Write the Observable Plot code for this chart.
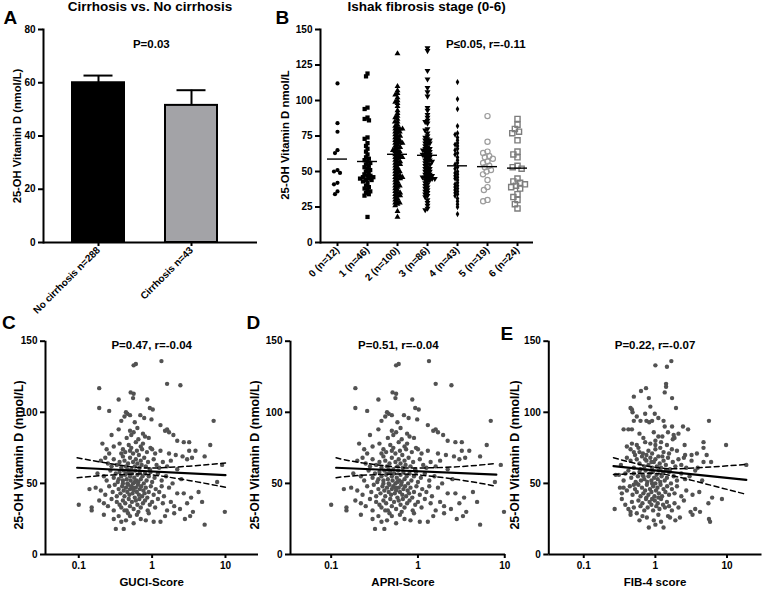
<!DOCTYPE html>
<html>
<head>
<meta charset="utf-8">
<script src="https://cdn.jsdelivr.net/npm/d3@7"></script>
<script src="https://cdn.jsdelivr.net/npm/@observablehq/plot@0.6"></script>
<style>
  html, body { margin: 0; padding: 0; background: #fff; }
  #fig { position: relative; width: 762px; height: 589px; overflow: hidden; background: #fff;
         font-family: "Liberation Sans", Arial, Helvetica, sans-serif; font-weight: bold; color: #000; }
  .txt { position: absolute; white-space: nowrap; line-height: 1; }
</style>
</head>
<body>
<div id="fig"></div>
<script>
// ---------------- Panel A: bar chart ----------------
const groupsA = ["No cirrhosis n=288", "Cirrhosis n=43"];
const meanA = [60, 51.5];
const upperA = [62.7, 57.2];
const colorsA = ["#000000", "#a3a3a7"];
const ticksA = [0, 20, 40, 60, 80];

// ---------------- Panel B: Ishak stages ----------------
const stages = ["0 (n=12)", "1 (n=46)", "2 (n=100)", "3 (n=86)", "4 (n=43)", "5 (n=19)", "6 (n=24)"];
const stage0 = [112, 84, 78, 65, 63, 51, 50, 49, 42, 41, 36, 34];
const stage1 = [119, 117, 95, 94, 88, 87, 86, 74, 73, 70, 68, 66, 64, 62, 60, 59, 58, 57, 56, 55,
  54, 53, 52, 51, 50, 49, 48, 47, 47, 46, 46, 45, 45, 44, 44, 43, 42, 40, 39, 38, 37, 36, 35, 34, 33, 18];
const stage2 = [133, 110, 107, 105, 104, 102, 100, 99, 98, 96, 93, 91, 89, 87, 85, 83, 82, 81, 80, 80,
  79, 78, 78, 77, 76, 75, 74, 73, 72, 71, 70, 70, 69, 68, 67, 67, 66, 65, 64, 64,
  63, 62, 62, 61, 60, 60, 59, 58, 57, 57, 56, 55, 55, 54, 53, 52, 51, 50, 50, 49,
  48, 47, 47, 46, 46, 45, 45, 44, 43, 42, 41, 40, 40, 39, 38, 37, 36, 35, 35, 34,
  33, 33, 32, 31, 30, 29, 28, 28, 27, 26, 22, 18, 70, 75, 80, 85, 88, 60, 65, 72];
const stage3 = [137, 135, 121, 115, 109, 106, 103, 95, 93, 90, 88, 86, 85, 84, 80, 79, 77, 75, 73, 72,
  71, 70, 69, 68, 67, 66, 65, 64, 64, 63, 62, 62, 61, 60, 59, 58, 57, 56, 55, 54,
  53, 52, 51, 50, 49, 48, 48, 47, 46, 46, 45, 45, 44, 44, 43, 42, 41, 40, 39, 38,
  37, 36, 35, 34, 33, 32, 30, 28, 26, 24, 23, 47, 46, 45, 58, 60, 66, 70, 72, 74,
  50, 52, 55, 57, 62, 65];
const stage4 = [113, 101, 94, 82, 77, 76, 74, 72, 70, 69, 68, 66, 65, 63, 62, 60, 58, 56, 55, 53,
  52, 50, 49, 48, 47, 46, 45, 44, 42, 41, 40, 39, 38, 37, 36, 35, 34, 33, 31, 29, 27, 25, 20];
const stage5 = [89, 71, 64, 63, 61, 60, 59, 57, 56, 54, 53, 51, 50, 48, 44, 39, 37, 30, 29];
const stage6 = [87, 83, 80, 78, 77, 72, 64, 62, 60, 54, 53, 52, 45, 43, 42, 41, 40, 39, 38, 34, 32, 30, 27, 24];
const ticksB = [0, 25, 50, 75, 100, 125, 150];

// ---------------- Panels C, D, E: scatter vs scores ----------------
const guciPoints = [
  [0.56,133],[0.6,134],[1.34,136],[1.6,120],[2.43,119],
  [0.19,117],[0.19,103],[0.26,101],[0.35,109],[0.51,114],[0.56,113],[0.55,110],[0.86,109],[0.93,103],[1.02,102],[0.44,100],
  [0.46,99],[0.42,97],[0.5,98],[0.69,98],[0.78,96],[0.98,95],[6.9,94],[1.3,91],[0.58,93],[0.38,94],
  [0.35,88],[0.5,87],[0.56,86],[0.63,89],[0.75,85],[0.8,83],[1.5,87],[1.6,88],[1.7,86],[1.95,84],[0.28,84],[0.45,82],[0.65,81],[0.9,82],[2.2,80],[0.52,84],
  [0.21,78],[0.3,76],[0.36,78],[0.4,74],[0.43,72],[0.48,77],[0.52,75],[0.55,71],[0.6,79],[0.62,73],[0.7,76],[0.73,74],[0.75,78],[0.85,72],[0.95,75],[1.0,74],[1.1,71],[1.3,73],[2.7,79],[3.2,79],[3.2,73],[3.9,73],[6.2,77],[0.26,71],[0.24,74],[1.7,71],[2.1,70],[0.66,70],[0.38,71],[0.5,73],
  [0.2,66],[0.23,68],[0.25,64],[0.28,62],[0.3,67],[0.33,63],[0.36,65],[0.38,61],[0.4,69],[0.42,66],[0.44,62],[0.47,64],[0.5,68],[0.52,60],[0.55,65],[0.58,62],[0.6,67],[0.63,64],[0.67,61],[0.7,66],[0.72,63],[0.78,68],[0.82,62],[0.88,65],[0.93,60],[1.05,67],[1.15,63],[1.25,61],[1.4,65],[1.6,62],[2.6,69],[3.0,67],[3.5,68],[5.2,69],[9.0,63],[2.2,60],[0.46,60],[1.8,66],
  [0.18,57],[0.22,55],[0.24,52],[0.27,59],[0.3,54],[0.32,57],[0.34,51],[0.36,58],[0.38,55],[0.4,52],[0.41,59],[0.43,56],[0.45,53],[0.46,50],[0.48,58],[0.5,55],[0.51,52],[0.53,57],[0.55,50],[0.57,54],[0.59,59],[0.61,52],[0.63,56],[0.65,51],[0.68,58],[0.7,53],[0.74,55],[0.77,50],[0.8,57],[0.84,52],[0.9,55],[0.95,58],[1.0,51],[1.08,54],[1.2,57],[1.35,52],[1.55,55],[1.9,50],[2.5,53],[7.7,51],[0.35,53],[0.58,51],[0.44,57],
  [0.14,46],[0.17,47],[0.2,45],[0.23,42],[0.26,48],[0.29,44],[0.31,49],[0.33,41],[0.35,46],[0.37,43],[0.39,48],[0.41,45],[0.42,41],[0.44,47],[0.46,44],[0.47,49],[0.49,42],[0.5,46],[0.52,48],[0.54,43],[0.56,45],[0.58,40],[0.6,47],[0.62,44],[0.64,49],[0.66,42],[0.68,46],[0.71,48],[0.73,41],[0.76,45],[0.79,43],[0.82,47],[0.86,40],[0.9,44],[0.96,48],[1.05,42],[1.12,46],[1.25,44],[1.45,41],[1.7,47],[2.2,43],[2.7,43],[3.4,40],[4.3,44],[0.4,50],[0.55,47],[1.35,48],
  [0.1,35],[0.15,33],[0.15,31],[0.19,38],[0.22,36],[0.25,34],[0.28,39],[0.3,31],[0.33,37],[0.36,35],[0.38,33],[0.4,38],[0.43,36],[0.45,31],[0.48,39],[0.5,34],[0.53,37],[0.56,32],[0.6,38],[0.63,35],[0.67,39],[0.7,33],[0.75,36],[0.8,38],[0.87,31],[0.93,35],[1.0,37],[1.1,33],[1.2,39],[1.4,36],[1.6,31],[1.8,37],[2.0,34],[2.4,32],[3.0,36],[3.6,30],[4.8,37],[0.42,31],[0.65,30],[9.8,30],
  [0.22,28],[0.3,25],[0.32,18],[0.38,23],[0.41,18],[0.44,24],[0.5,27],[0.56,22],[0.62,28],[0.7,25],[0.82,24],[0.9,29],[1.05,23],[1.3,23],[1.5,27],[2.0,29],[2.8,25],[3.3,27],[5.2,21],[0.47,29],[0.35,27]
];
const apriPoints = guciPoints;
const fib4Points = [
  [1.67,136],[1.45,132],[1.0,133],[1.41,120],[1.41,118],
  [0.74,117],[0.63,115],[0.5,111],[0.81,110],[1.35,114],[1.71,110],[0.85,104],[1.94,103],[0.45,103],[0.48,100],[0.72,99],[0.98,99],[0.47,102],
  [0.55,97],[0.62,94],[0.75,94],[0.82,93],[0.9,94],[1.3,94],[1.35,90],[1.71,90],[2.43,90],[5.6,94],[0.5,94],[1.1,96],
  [0.36,88],[0.47,88],[2.86,88],[1.8,84],[1.85,82],[1.75,81],[1.1,83],[1.25,83],[1.0,80],[0.72,79],[0.42,88],[0.6,85],[0.95,86],[1.5,86],[2.1,85],[0.68,82],
  [1.0,77],[0.55,77],[0.47,78],[0.45,74],[0.5,72],[0.6,72],[0.67,71],[0.75,70],[0.8,73],[1.0,74],[1.17,75],[1.45,77],[1.7,74],[2.56,77],[4.7,79],[2.6,70],[3.2,70],[3.8,71],[4.7,75],[9.7,77],[5.2,70],[0.4,76],[0.85,78],[1.3,72],[1.55,71],[2.0,73],[0.58,75],[1.2,79],[0.9,71],[0.52,70],
  [4.7,65],[6.0,65],[18.6,63],[0.33,63],[0.4,68],[0.45,66],[0.5,61],[0.55,67],[0.6,64],[0.65,69],[0.7,62],[0.75,66],[0.8,63],[0.85,68],[0.9,61],[0.95,65],[1.0,67],[1.05,62],[1.1,69],[1.15,64],[1.2,61],[1.3,66],[1.4,63],[1.5,68],[1.6,60],[1.75,65],[1.9,62],[2.1,67],[2.3,63],[2.7,61],[3.2,66],[3.9,61],[0.62,60],[1.25,69],[0.88,65],[2.5,68],[0.72,67],
  [0.28,56],[0.31,56],[0.38,57],[0.36,52],[0.42,59],[0.46,54],[0.5,57],[0.53,51],[0.57,55],[0.6,58],[0.63,52],[0.66,56],[0.7,53],[0.73,59],[0.77,51],[0.8,55],[0.84,57],[0.88,52],[0.92,58],[0.96,54],[1.0,50],[1.04,56],[1.08,53],[1.12,59],[1.17,51],[1.22,55],[1.28,57],[1.35,52],[1.45,54],[1.55,58],[1.65,50],[1.8,55],[2.0,52],[2.3,57],[2.6,53],[3.0,55],[3.6,59],[4.5,52],[0.55,50],[0.9,50],[1.4,59],[0.68,55],
  [0.32,47],[0.36,47],[0.34,43],[0.4,45],[0.44,48],[0.48,42],[0.52,46],[0.55,44],[0.58,49],[0.62,41],[0.65,47],[0.68,43],[0.72,45],[0.76,49],[0.8,42],[0.84,46],[0.88,44],[0.93,48],[0.97,41],[1.02,45],[1.07,47],[1.12,43],[1.18,49],[1.24,41],[1.3,46],[1.38,44],[1.46,48],[1.55,42],[1.7,46],[1.85,43],[2.0,48],[2.3,41],[2.7,45],[3.3,42],[6.2,40],[8.5,39],[4.1,44],[0.75,40],[1.1,40],[0.5,49],
  [0.34,39],[0.38,35],[0.42,32],[0.45,30],[0.47,37],[0.5,33],[0.55,29],[0.58,38],[0.62,34],[0.66,36],[0.7,31],[0.74,39],[0.78,33],[0.83,37],[0.88,35],[0.93,31],[0.98,38],[1.03,34],[1.08,36],[1.14,32],[1.2,39],[1.28,35],[1.36,33],[1.45,37],[1.55,34],[1.7,31],[1.85,36],[2.1,33],[2.5,38],[3.1,30],[3.6,32],[4.2,30],[0.27,32],[5.5,36],[0.9,39],
  [0.66,27],[0.76,26],[0.81,19],[1.3,19],[1.9,24],[1.5,27],[1.6,26],[0.95,24],[1.1,28],[5.6,25],[5.8,23],[0.6,24],[1.2,23],[2.2,26],[0.45,28],[3.3,28],[1.0,21]
];
// regression line and 95% band ([score, vitamin D])
const fitC = [[0.095, 61], [10, 55.8]];
const ciUpperC = [[0.095, 68], [0.2, 65], [0.5, 61.8], [1, 60.8], [3.16, 62.1], [10, 64.3]];
const ciLowerC = [[0.095, 54], [0.2, 55.4], [0.5, 56.5], [1, 56], [3.16, 52.1], [10, 47.3]];
const fitD = [[0.114, 61], [8, 56.2]];
const ciUpperD = [[0.114, 68], [0.2, 65], [0.5, 61.8], [1, 60.8], [3, 61.8], [8, 64]];
const ciLowerD = [[0.114, 54], [0.2, 55.5], [0.5, 56.5], [1, 56], [3, 52.5], [8, 48]];
const fitE = [[0.26, 62.1], [18.6, 52.5]];
const ciUpperE = [[0.26, 68], [0.5, 64.3], [1, 61.2], [2, 60.3], [5, 61.3], [18.6, 63.3]];
const ciLowerE = [[0.26, 56.2], [0.5, 56.9], [1, 57], [2, 54.7], [5, 49.7], [18.6, 42.3]];
const ticksScatterY = [0, 50, 100, 150];
const ticksScore = [0.1, 1, 10];

// ---------------- Texts ----------------
const panelLetters = [["A", 3.5, 7.5], ["B", 275.5, 7.5], ["C", 2, 312.5], ["D", 246.5, 312.5], ["E", 500.5, 324]];
const titles = [["Cirrhosis vs. No cirrhosis", 150, 0], ["Ishak fibrosis stage (0-6)", 426.7, 0]];
const statTexts = [["P=0.03", 151.3, 38.5], ["P\u22640.05, r=-0.11", 485.8, 39.2],
  ["P=0.47, r=-0.04", 151.7, 340.2], ["P=0.51, r=-0.04", 398.3, 340.2], ["P=0.22, r=-0.07", 655, 340.2]];
const yTitles = [["25-OH Vitamin D (nmol/L)", 18.3, 135.8, 11.2], ["25-OH Vitamin D nmol/L", 285.5, 135, 11.4],
  ["25-OH Vitamin D (nmol/L)", 18.5, 455, 12.4], ["25-OH Vitamin D (nmol/L)", 255, 455, 12.4], ["25-OH Vitamin D (nmol/L)", 515, 455, 12.4]];
const xTitles = [["GUCI-Score", 151.7, 577], ["APRI-Score", 403, 577], ["FIB-4 score", 655, 577]];

// ---------------- Build ----------------
const fig = document.getElementById("fig");
const FONT = '"Liberation Sans", Arial, Helvetica, sans-serif';
const STYLE = {fontFamily: FONT, fontSize: "10px", fontWeight: "bold", overflow: "visible", background: "transparent", color: "#000"};
const TICKFONT = {fontSize: 10, fontWeight: "bold"};

function place(el, left, top) {
  el.style.position = "absolute";
  el.style.left = left + "px";
  el.style.top = top + "px";
  fig.appendChild(el);
}
function addText(t, x, y, size, mode) {
  const d = document.createElement("div");
  d.className = "txt";
  d.textContent = t;
  d.style.fontSize = size + "px";
  d.style.left = x + "px";
  d.style.top = y + "px";
  if (mode === "rot") d.style.transform = "translate(-50%,-50%) rotate(-90deg)";
  else if (mode === "center") d.style.transform = "translateX(-50%)";
  fig.appendChild(d);
}

// Panel A
const barsA = groupsA.map((g, i) => ({group: g, mean: meanA[i], upper: upperA[i], color: colorsA[i]}));
const plotA = Plot.plot({
  width: 262, height: 300, marginLeft: 43, marginRight: 5, marginTop: 29, marginBottom: 58,
  style: STYLE,
  x: {type: "band", domain: groupsA, range: [43, 246], paddingInner: 0.436, paddingOuter: 0.298},
  y: {domain: [0, 80]},
  marks: [
    Plot.ruleX(barsA, {x: "group", y1: "mean", y2: "upper", stroke: "#000", strokeWidth: 2}),
    Plot.tickY(barsA, {x: "group", y: "upper", stroke: "#000", strokeWidth: 2, insetLeft: 11.5, insetRight: 11.5}),
    Plot.barY(barsA, {x: "group", y: "mean", fill: "color", stroke: "#000", strokeWidth: 2}),
    Plot.axisY({ticks: ticksA, tickSize: 5, tickPadding: 3, strokeWidth: 2, label: null, ...TICKFONT}),
    Plot.axisX({tickRotate: -45, tickSize: 4, tickPadding: 2, strokeWidth: 2, label: null, ...TICKFONT}),
    Plot.frame({anchor: "left", strokeWidth: 2}),
    Plot.ruleY([0], {strokeWidth: 2})
  ]
});
place(plotA, 0, 0);

// Panel B axes
const bData = [stage0, stage1, stage2, stage3, stage4, stage5, stage6]
  .flatMap((vals, i) => vals.map(v => ({stage: stages[i], v})));
const dimsB = {width: 290, height: 300, marginLeft: 50, marginRight: 27, marginTop: 29, marginBottom: 58};
const plotBaxes = Plot.plot({
  ...dimsB, style: STYLE,
  x: {type: "band", domain: stages, padding: 0},
  y: {domain: [0, 150]},
  marks: [
    Plot.axisY({ticks: ticksB, tickSize: 5, tickPadding: 3, strokeWidth: 2, label: null, ...TICKFONT}),
    Plot.axisX({tickRotate: -45, tickSize: 4, tickPadding: 2, strokeWidth: 2, label: null, ...TICKFONT}),
    Plot.frame({anchor: "left", strokeWidth: 2}),
    Plot.ruleY([0], {strokeWidth: 2})
  ]
});
place(plotBaxes, 270, 0);

const triangleDown = {
  draw(context, size) {
    const y = -Math.sqrt(size / (Math.sqrt(3) * 3));
    context.moveTo(0, -y * 2);
    context.lineTo(-Math.sqrt(3) * y, y);
    context.lineTo(Math.sqrt(3) * y, y);
    context.closePath();
  }
};
const symStyles = [
  {symbol: "circle", fill: "#000", r: 2.1, pad: -0.4},
  {symbol: "square", fill: "#000", r: 2.4, pad: -1.6},
  {symbol: "triangle", fill: "#000", r: 2.2, pad: -1.7},
  {symbol: triangleDown, fill: "#000", r: 2.2, pad: -1.7},
  {symbol: "diamond", fill: "#000", r: 1.9, pad: -1.0},
  {symbol: "circle", fill: "none", stroke: "#9c9c9c", strokeWidth: 1.2, r: 2.6, pad: -0.6},
  {symbol: "square", fill: "none", stroke: "#7d7d7d", strokeWidth: 1.4, r: 2.9, pad: -0.8}
];
const swarmMarks = stages.map((s, i) => {
  const {pad, ...st} = symStyles[i];
  return Plot.dot(bData.filter(d => d.stage === s),
    Plot.dodgeX({anchor: "middle", padding: pad}, {y: "v", fx: "stage", ...st}));
});
const plotBswarm = Plot.plot({
  ...dimsB, style: STYLE,
  fx: {domain: stages, padding: 0, axis: null},
  y: {domain: [0, 150], axis: null},
  marks: [
    ...swarmMarks,
    Plot.tickY(bData, Plot.groupZ({y: "mean"}, {y: "v", fx: "stage", insetLeft: 5, insetRight: 5, stroke: "#000", strokeWidth: 1.4}))
  ]
});
place(plotBswarm, 270, 0);

// Panels C, D, E
function scatterPanel(points, domain, fit, ciU, ciL, width, marginLeft, marginRight) {
  const line = (data, w, dash) => Plot.line(data, {x: d => d[0], y: d => d[1], stroke: "#000", strokeWidth: w, strokeDasharray: dash, curve: "natural"});
  return Plot.plot({
    width, height: 270, marginLeft, marginRight, marginTop: 20.7, marginBottom: 36,
    style: STYLE,
    x: {type: "log", domain},
    y: {domain: [0, 150]},
    marks: [
      Plot.dot(points, {x: d => d[0], y: d => d[1], r: 2.2, fill: "#525252"}),
      line(ciU, 1.5, "5,3.5"),
      line(ciL, 1.5, "5,3.5"),
      line(fit, 2.2, null),
      Plot.axisY({ticks: ticksScatterY, tickSize: 5, tickPadding: 3, strokeWidth: 2, label: null, ...TICKFONT}),
      Plot.axisX({ticks: ticksScore, tickFormat: d => String(d), tickSize: 4, tickPadding: 3, strokeWidth: 2, label: null, ...TICKFONT}),
      Plot.ruleX([domain[0]], {strokeWidth: 2}),
      Plot.ruleY([0], {strokeWidth: 2})
    ]
  });
}
place(scatterPanel(guciPoints, [0.0352, 28.2], fitC, ciUpperC, ciLowerC, 262, 45, 4), 0, 320);
place(scatterPanel(apriPoints, [0.034, 10.2], fitD, ciUpperD, ciLowerD, 258, 40, 3), 250, 320);
place(scatterPanel(fib4Points, [0.0325, 30.8], fitE, ciUpperE, ciLowerE, 262, 48.3, 0.5), 500, 320);

// Texts
panelLetters.forEach(([t, x, y]) => addText(t, x, y, 19));
titles.forEach(([t, x, y]) => addText(t, x, y, 13.5, "center"));
statTexts.forEach(([t, x, y]) => addText(t, x, y, 11.5, "center"));
yTitles.forEach(([t, x, y, s]) => addText(t, x, y, s, "rot"));
xTitles.forEach(([t, x, y]) => addText(t, x, y, 11.5, "center"));
</script>
</body>
</html>
